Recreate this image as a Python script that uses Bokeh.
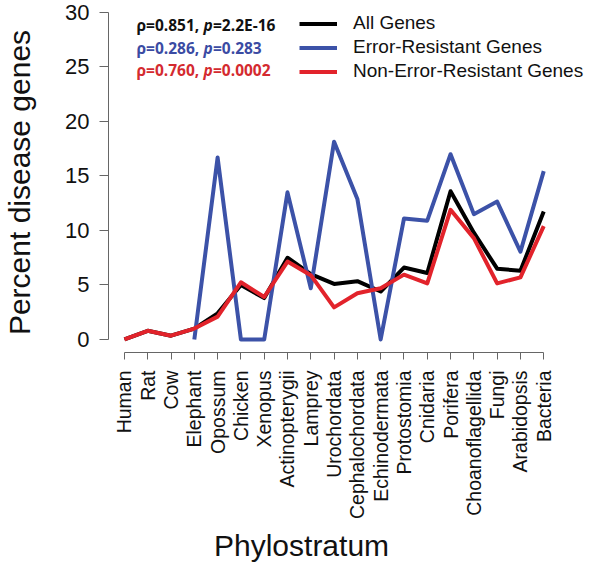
import math
from bokeh.plotting import figure
from bokeh.models import Range1d, FixedTicker, Legend, LegendItem, Label, ColumnDataSource, Title
from bokeh.embed import file_html
from bokeh.resources import INLINE

nan = float("nan")

categories = ["Human", "Rat", "Cow", "Elephant", "Opossum", "Chicken", "Xenopus",
              "Actinopterygii", "Lamprey", "Urochordata", "Cephalochordata",
              "Echinodermata", "Protostomia", "Cnidaria", "Porifera",
              "Choanoflagellida", "Fungi", "Arabidopsis", "Bacteria"]
all_genes = [0.0, 0.8, 0.35, 1.0, 2.4, 5.0, 3.8, 7.5, 6.0, 5.1, 5.35, 4.4, 6.6, 6.1,
             13.6, 9.8, 6.5, 6.3, 11.75]
error_resistant = [nan, nan, nan, 0.0, 16.7, 0.0, 0.0, 13.5, 4.7, 18.15, 12.9, 0.0,
                   11.1, 10.9, 17.0, 11.5, 12.65, 8.05, 15.45]
non_error_resistant = [0.0, 0.8, 0.35, 1.0, 2.1, 5.25, 3.9, 7.15, 5.9, 2.95, 4.25, 4.7,
                       5.95, 5.15, 11.9, 9.3, 5.15, 5.7, 10.4]
y_ticks = [0, 5, 10, 15, 20, 25, 30]
series_names = ["All Genes", "Error-Resistant Genes", "Non-Error-Resistant Genes"]
rho_values = ["0.851", "0.286", "0.760"]
p_values = ["2.2E-16", "0.283", "0.0002"]

colors = ["#000000", "#3C52A8", "#E2232B"]
text_colors = ["#111111", "#3B4BA3", "#D42A2F"]

x = list(range(len(categories)))
source = ColumnDataSource(dict(x=x, all=all_genes, er=error_resistant, ner=non_error_resistant))

p = figure(width=600, height=566,
           x_range=Range1d(-0.684, 20.437), y_range=Range1d(-1.193, 30),
           output_backend="svg", toolbar_location=None,
           min_border_left=106, min_border_right=0, min_border_top=12, min_border_bottom=214)
p.outline_line_color = None
p.xgrid.visible = False
p.ygrid.visible = False
p.background_fill_color = "white"

r_all = p.line("x", "all", source=source, line_color=colors[0], line_width=4, line_join="round")
r_er = p.line("x", "er", source=source, line_color=colors[1], line_width=4, line_join="round")
r_ner = p.line("x", "ner", source=source, line_color=colors[2], line_width=4, line_join="round")

axis_color = "#666666"
# x axis
xa = p.xaxis[0]
xa.ticker = FixedTicker(ticks=x)
xa.major_label_overrides = {i: c for i, c in enumerate(categories)}
xa.bounds = (0, len(categories) - 1)
xa.major_label_orientation = math.pi / 2
xa.major_label_text_font = "Liberation Sans"
xa.major_label_text_font_size = "19.5px"
xa.major_label_text_color = "#111111"
xa.major_label_standoff = 11
xa.major_tick_out = 7
xa.major_tick_in = 0
xa.minor_tick_line_color = None
xa.axis_line_color = axis_color
xa.major_tick_line_color = axis_color

# y axis
ya = p.yaxis[0]
ya.ticker = FixedTicker(ticks=y_ticks)
ya.bounds = (0, 30)
ya.major_label_text_font = "Liberation Sans"
ya.major_label_text_font_size = "22px"
ya.major_label_text_color = "#111111"
ya.major_label_standoff = 10
ya.major_tick_out = 9
ya.major_tick_in = 0
ya.minor_tick_line_color = None
ya.axis_line_color = axis_color
ya.major_tick_line_color = axis_color
ya.axis_label = "Percent disease genes"
ya.axis_label_text_font = "Liberation Sans"
ya.axis_label_text_font_size = "30px"
ya.axis_label_text_font_style = "normal"
ya.axis_label_text_color = "#111111"
ya.axis_label_standoff = 26

# x title, shifted left like the reference
p.add_layout(Title(text="Phylostratum", align="left", offset=105.5,
                   text_font="Liberation Sans", text_font_size="30px",
                   text_font_style="normal", text_color="#111111", standoff=8), "below")

legend = Legend(items=[LegendItem(label=series_names[0], renderers=[r_all]),
                       LegendItem(label=series_names[1], renderers=[r_er]),
                       LegendItem(label=series_names[2], renderers=[r_ner])],
                location=(191, 270), glyph_width=38, glyph_height=21, label_height=21,
                spacing=2, padding=0, margin=0, label_standoff=16,
                border_line_color=None, background_fill_alpha=0,
                label_text_font="Liberation Sans", label_text_font_size="19px",
                label_text_color="#111111")
p.add_layout(legend)

row_y = [327.5, 305, 282.5]
for i in range(3):
    common = dict(y=row_y[i], x_units="screen", y_units="screen", text_baseline="middle",
                  text_font="Open Sans", text_font_size="15.5px", text_color=text_colors[i])
    p.add_layout(Label(x=28, text="ρ=" + rho_values[i] + ",", text_font_style="bold", **common))
    p.add_layout(Label(x=95, text="p", text_font_style="bold italic", **common))
    p.add_layout(Label(x=104.5, text="=" + p_values[i], text_font_style="bold", **common))

open("out.html", "w").write(file_html(p, INLINE))
